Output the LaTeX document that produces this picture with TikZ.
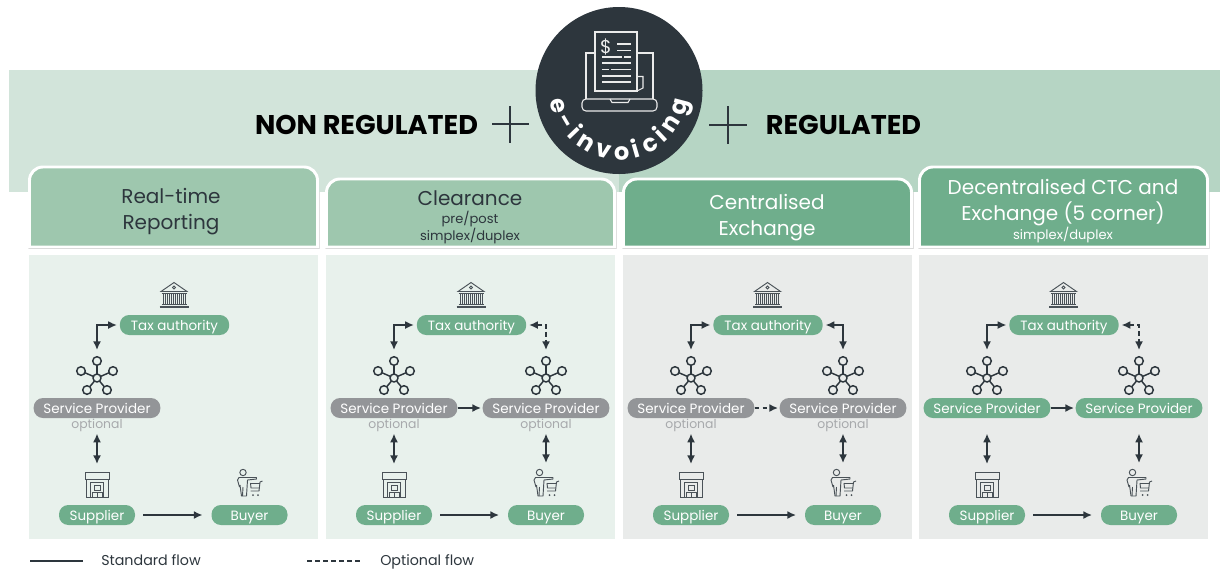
\documentclass[tikz,border=0pt]{standalone}
\usepackage{fontspec}
\setmainfont{Poppins}
\usetikzlibrary{arrows.meta,decorations.text,calc}
\definecolor{ink}{HTML}{2D363D}
\definecolor{bandL}{HTML}{D2E4DA}
\definecolor{bandR}{HTML}{B6D5C4}
\definecolor{tabL}{HTML}{9EC7AE}
\definecolor{tabD}{HTML}{6FAE8C}
\definecolor{panL}{HTML}{E8F1EC}
\definecolor{panG}{HTML}{E9EBEA}
\definecolor{pillG}{HTML}{6FAE8C}
\definecolor{pillS}{HTML}{939598}
\definecolor{optT}{HTML}{A7A9AC}
\definecolor{iconC}{HTML}{4A5258}
\newcommand\fsz[2]{\fontsize{#1}{#2}\selectfont}
\tikzset{
  x=0.75pt,y=-0.75pt,
  pill/.style={rounded corners=7pt,inner sep=0pt,minimum height=15pt,text height=8.4pt,text depth=0.4pt,text=white,font=\fsz{10.1}{11}},
  green/.style={pill,fill=pillG},
  grey/.style={pill,fill=pillS},
  taxp/.style={minimum width=82pt},
  spp/.style={minimum width=95pt},
  endp/.style={minimum width=57pt},
  iconbox/.style={inner sep=0pt,minimum width=24pt,minimum height=27pt},
  hubbox/.style={inner sep=0pt,minimum width=30pt,minimum height=37.5pt},
  ic/.style={draw=iconC,line width=0.7pt},
  flow/.style={draw=ink,line width=1.3pt},
  tips/.style={{Latex[length=6.5pt,width=6pt]}-{Latex[length=6.5pt,width=6pt]}},
  tip/.style={-{Latex[length=6.5pt,width=6pt]}},
  opt/.style={dash pattern=on 3.5pt off 2.5pt},
  tabT/.style={align=center,inner sep=0pt,font=\fsz{15}{19.5}},
  subT/.style={inner sep=0pt,font=\fsz{9.8}{12}},
  optn/.style={inner sep=0pt,anchor=base,text=optT,font=\fsz{9.3}{11}},
  legend/.style={inner sep=0pt,text=ink,anchor=base west,font=\fsz{10.7}{12}},
  top/.style={inner sep=0pt,text=black,font=\bfseries\fsz{20.3}{24}},
  pics/bank/.style={code={
    \draw[ic] (-13,-3.5) -- (0,-12.5) -- (13,-3.5) -- cycle;
    \draw[ic] (0,-7.5) circle (1.5);
    \foreach \q in {-11,-7,-3,1,5,9}{\draw[ic] (\q,-1.5) -- (\q,8.5);\draw[ic] (\q+2,-1.5) -- (\q+2,8.5);}
    \draw[ic] (-12.5,-1.5) -- (12.5,-1.5);
    \draw[ic] (-12.5,9) -- (12.5,9);
    \draw[ic,line width=0.9pt] (-14.5,12) -- (14.5,12);
  }},
  pics/hub/.style={code={
    \foreach \a/\b in {0/-17,-16/-7,16/-7,-10/12,10/12}{
      \draw[draw=ink,line width=1.1pt,shorten <=3pt,shorten >=3.2pt] (0,0) -- (\a,\b);
      \draw[draw=ink,line width=1.1pt] (\a,\b) circle (4.3);
    }
    \draw[draw=ink,line width=1.1pt] (0,0) circle (4);
  }},
  pics/store/.style={code={
    \draw[ic] (-12,-12.5) rectangle (12,-6);
    \draw[ic] (-11,-6) -- (-11,12) -- (11,12) -- (11,-6);
    \draw[ic] (-6.5,12) -- (-6.5,-3) -- (6.5,-3) -- (6.5,12);
    \draw[ic] (-3,5) rectangle (3,0.5);
    \draw[ic] (-5,12) rectangle (0,7);
    \draw[ic] (0,12) rectangle (5,7);
  }},
  pics/shopper/.style={code={
    \draw[ic] (-6.5,-11.5) circle (3.2);
    \draw[ic,line join=round] (-10,3) -- (-12,-4) -- (-10.5,-6.5) -- (7,-6.5) -- (7,-5) -- (-2,-4) -- (-3,12) -- (-8,12) -- (-9.5,1);
    \draw[ic] (-7,12) -- (-6.5,3);
    \draw[ic] (13,-3) -- (10.5,-2) -- (9.5,7) -- (1,7);
    \draw[ic] (1,-1) -- (10.3,-1);
    \draw[ic] (1,-1) -- (1.5,4) -- (9.8,4);
    \fill[iconC] (3.5,11) circle (1);
    \fill[iconC] (8.5,11) circle (1);
  }},
}
\newcommand\flowbase[5]{% id, left x, tax x, buyer x, style of the service provider pill
  \node[green,taxp] (tax#1) at (#3,325) {Tax authority};
  \node[grey,spp,#5] (spl#1) at (#2,408) {Service Provider};
  \node[green,endp] (sup#1) at (#2,515) {Supplier};
  \node[green,endp] (buy#1) at (#4,515) {Buyer};
  \node[iconbox] (bank#1) at (#3-0.5,295) {};
  \pic at (bank#1) {bank};
  \node[hubbox] (hubl#1) at (#2,378) {};
  \pic at (hubl#1) {hub};
  \node[iconbox] (store#1) at (#2,485) {};
  \pic at (store#1) {store};
  \node[iconbox] (shop#1) at (#4,484) {};
  \pic at (shop#1) {shopper};
  \draw[flow,tips,shorten <=2pt,shorten >=2pt] (hubl#1.north) |- (tax#1.west);
  \draw[flow,tips,shorten <=11.5pt,shorten >=2pt] (spl#1.south) -- (store#1.north);
  \draw[flow,tip,shorten <=6pt,shorten >=6.5pt] (sup#1.east) -- (buy#1.west);
}
\newcommand\flowright[3]{% id, x, style of the pill
  \node[grey,spp,#3] (spr#1) at (#2,408) {Service Provider};
  \node[hubbox] (hubr#1) at (#2,378) {};
  \pic at (hubr#1) {hub};
  \draw[flow,tips,shorten <=11.5pt,shorten >=2pt] (spr#1.south) -- (shop#1.north);
}
\newcommand\tabshape[4]{% x1,x2,ytop,fill
  \draw[draw=black!22,line width=0.8pt] (#1-1,248.6) -- (#2+1,248.6);
  \draw[draw=black!12,line width=0.5pt] (#1-1.6,192) -- (#1-1.6,248.6) (#2+1.6,192) -- (#2+1.6,248.6);
  \draw[draw=white,line width=2.2pt,fill=#4] (#1,247) -- (#1,#3+13.33) arc[start angle=180,end angle=90,radius=10pt]
     -- (#2-13.33,#3) arc[start angle=90,end angle=0,radius=10pt] -- (#2,247) -- cycle;
}
\begin{document}
\begin{tikzpicture}
\useasboundingbox (0,0) rectangle (1220,569);
\fill[bandL] (9,70) rectangle (619,192);
\fill[bandR] (619,70) rectangle (1220,192);
% panels
\fill[panL] (29,255) rectangle (318,539);
\fill[panL] (326,255) rectangle (615,539);
\fill[panG] (623,255) rectangle (912,539);
\fill[panG] (919,255) rectangle (1208,539);
% tabs
\tabshape{29.5}{317.5}{167}{tabL}
\tabshape{326.5}{614.5}{179}{tabL}
\tabshape{623.5}{911.5}{179}{tabD}
\tabshape{919.5}{1207.5}{167}{tabD}
\node[tabT,text=ink] (t1) at (171,212) {Real-time\\ Reporting};
\node[tabT,text=ink] (t2) at (470,198) {Clearance};
\node[subT,text=ink] (t2a) at (470,219) {pre/post};
\node[subT,text=ink] (t2b) at (470,236.5) {simplex/duplex};
\node[tabT,text=white] (t3) at (767,218) {Centralised\\ Exchange};
\node[tabT,text=white] (t4) at (1063,203) {Decentralised CTC and\\ Exchange (5 corner)};
\node[subT,text=white] (t4a) at (1063,235.5) {simplex/duplex};
% heading row
\node[top] (nonreg) at (366.5,124.5) {NON REGULATED};
\node[top] (reg) at (843.5,124.5) {REGULATED};
\coordinate (pl) at (510,124);
\coordinate (pr) at (728,125);
\draw[draw=ink,line width=0.8pt] ($(pl)+(-18,0)$) -- ($(pl)+(19,0)$) ($(pl)+(0,-18)$) -- ($(pl)+(0,19)$);
\draw[draw=ink,line width=0.8pt] ($(pr)+(-19,0)$) -- ($(pr)+(19,0)$) ($(pr)+(0,-19)$) -- ($(pr)+(0,19)$);
% central badge
\coordinate (c) at (619,90.5);
\fill[ink] (c) circle (83.5);
\begin{scope}[draw=white!92!black,line width=0.8pt]
  \draw (595,32) rectangle (637,91);
  \draw (595,53) -- (586,53) -- (586,99);
  \draw (637,53) -- (653,53) -- (653,99);
  \draw (637,76.5) -- (643,76.5) -- (643,88) -- (637,91);
  \draw[rounded corners=3pt] (582,99) -- (582,111) -- (657,111) -- (657,99) -- cycle;
  \draw (610,99) -- (612,102.5) -- (628,102.5) -- (630,99);
  \draw (617,44) -- (631,44) (617,50.5) -- (631,50.5);
  \draw (602,57) -- (622,57) (624,57) -- (631,57);
  \draw (602,63) -- (631,63);
  \draw (602,69.5) -- (609,69.5) (611,69.5) -- (631,69.5);
  \draw (602,76) -- (631,76);
  \draw (602,82) -- (631,82);
\end{scope}
\node[inner sep=0pt,text=white!92!black,font=\fsz{14}{16}] (dollar) at (606,47) {\$};
\path[decorate,decoration={text along path,text align={fit to path},
  text={|\bfseries\fsz{18}{20}\color{white}|e-invoicing}}]
  ($(c)+(188:52pt)$) arc[start angle=188,end angle=352,radius=52pt];
% flows
\flowbase{a}{97}{174.5}{249.5}{}
\node[optn] (opta) at (97,428) {optional};

\flowbase{b}{394}{471.5}{546}{}
\flowright{b}{546}{}
\node[optn] (optb) at (394,428) {optional};
\node[optn] (optbr) at (546,428) {optional};
\draw[flow,tip,shorten >=1pt] (splb.east) -- (sprb.west);
\draw[flow,opt,tips,shorten <=2pt,shorten >=2pt] (taxb.east) -| (hubrb.north);

\flowbase{c}{691}{768}{843}{}
\flowright{c}{843}{}
\node[optn] (optc) at (691,428) {optional};
\node[optn] (optcr) at (843,428) {optional};
\draw[flow,opt,tip,shorten >=1pt] (splc.east) -- (sprc.west);
\draw[flow,tips,shorten <=2pt,shorten >=2pt] (taxc.east) -| (hubrc.north);

\flowbase{d}{987}{1064}{1139}{fill=pillG}
\flowright{d}{1139}{fill=pillG}
\draw[flow,tip,shorten >=1pt] (spld.east) -- (sprd.west);
\draw[flow,opt,tips,shorten <=2pt,shorten >=2pt] (taxd.east) -| (hubrd.north);
% legend
\coordinate (l1a) at (30,561);
\coordinate (l1b) at (83,561);
\coordinate (l2a) at (307,561);
\coordinate (l2b) at (360,561);
\draw[flow,line width=1.1pt] (l1a) -- (l1b);
\draw[flow,opt,line width=1.1pt] (l2a) -- (l2b);
\node[legend] (std) at (101,565.5) {Standard flow};
\node[legend] (optl) at (380,565.5) {Optional flow};
\end{tikzpicture}
\end{document}
